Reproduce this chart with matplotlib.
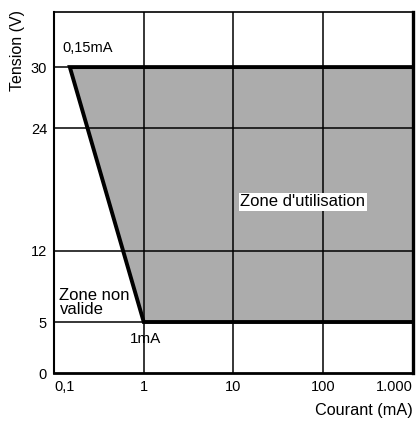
import matplotlib
matplotlib.use('Agg')
import matplotlib.pyplot as plt

plt.rcParams['font.family'] = ['Liberation Sans', 'DejaVu Sans']

# zone d'utilisation: contour (courant en mA, tension en V)
courant = [1000, 0.15, 1, 1000]
tension = [30, 30, 5, 5]

xticks = [0.1, 1, 10, 100, 1000]
xlabels = ["0,1", "1", "10", "100", "1.000"]
yticks = [0, 5, 12, 24, 30]
ylabels = ["0", "5", "12", "24", "30"]

fig = plt.figure(figsize=(4.18, 4.23), dpi=100)
ax = fig.add_axes([0.1292, 0.1182, 0.8588, 0.8534])

ax.set_xscale('log')
ax.set_xlim(0.1, 1000)
ax.set_ylim(0, 35.4)

ax.fill(courant, tension, color='#acacac', zorder=1, lw=0)

# grid
for x in xticks[1:-1]:
  ax.axvline(x, color='black', lw=1.1, zorder=2)
for y in yticks[1:]:
  ax.axhline(y, color='black', lw=1.1, zorder=2)

ax.plot(courant, tension, color='black', lw=2.8, zorder=3,
        solid_joinstyle='miter', solid_capstyle='butt')

ax.set_xticks(xticks)
ax.set_xticklabels(xlabels)
ax.minorticks_off()
ax.set_yticks(yticks)
ax.set_yticklabels(ylabels)
ax.tick_params(length=0, labelsize=10.5, pad=5)
labs = ax.get_xticklabels()
labs[0].set_horizontalalignment('left')
labs[-1].set_horizontalalignment('right')

for s, w in [('left', 1.5), ('top', 1.2), ('bottom', 2.0), ('right', 2.4)]:
  ax.spines[s].set_linewidth(w)

ax.text(0.125, 31.2, "0,15mA", fontsize=10.5, va='bottom', ha='left')
ax.text(1.05, 4.0, "1mA", fontsize=11, va='top', ha='center')
ax.text(0.115, 5.5, "Zone non\nvalide", fontsize=12, va='bottom', ha='left',
        linespacing=0.95)
ax.text(59, 16.8, "Zone d'utilisation", fontsize=12, va='center', ha='center',
        bbox=dict(facecolor='white', edgecolor='none', pad=1), zorder=4)

fig.text(18/418, 1 - 10/423, "Tension (V)", rotation=90, fontsize=11.5,
         ha='center', va='top')
fig.text(413/418, 1 - 410/423, "Courant (mA)", fontsize=11.7,
         ha='right', va='center')

fig.savefig('out.png', dpi=100)
